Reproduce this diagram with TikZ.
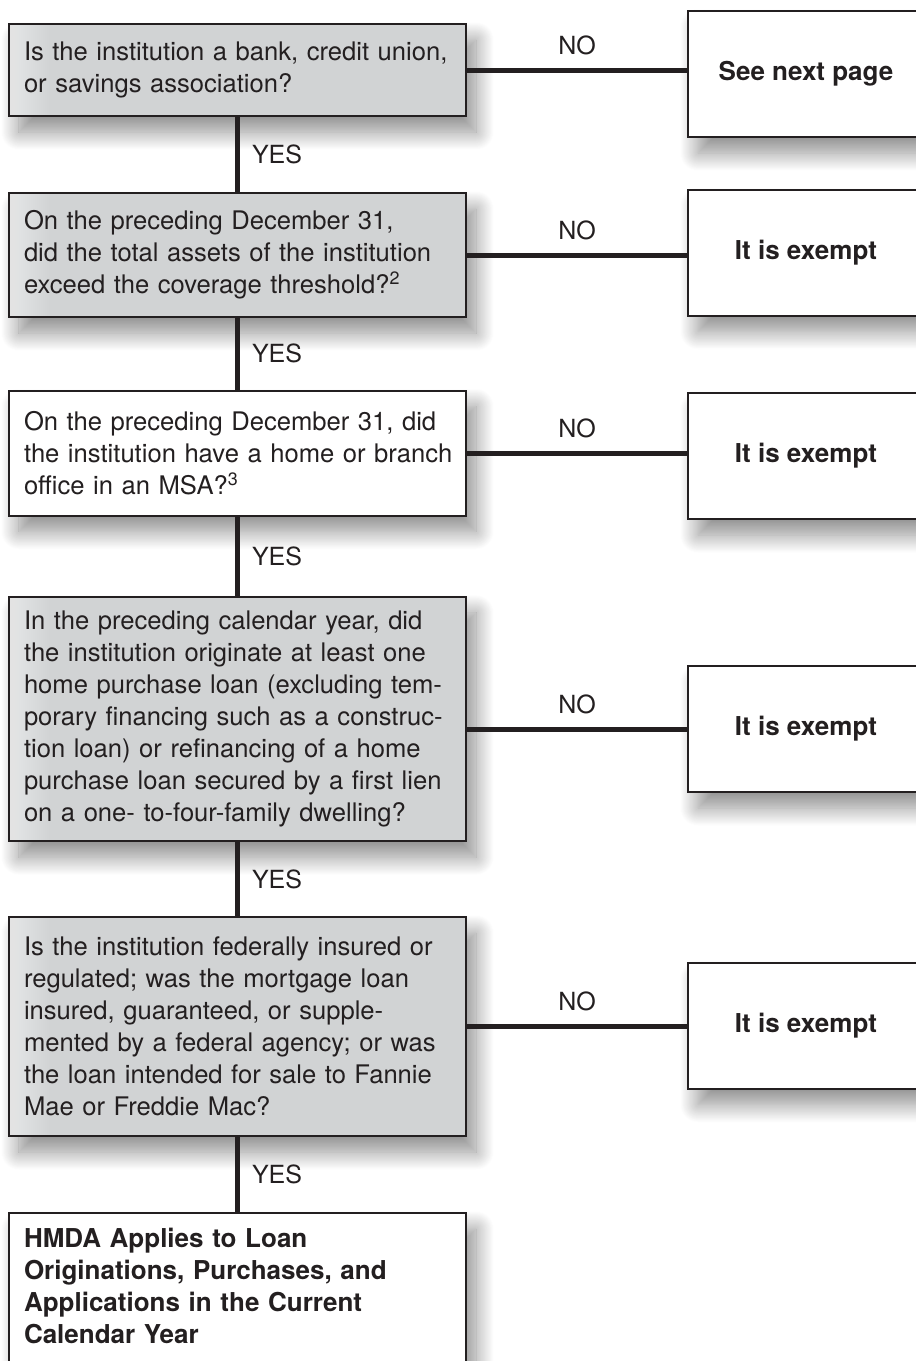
\documentclass[tikz,border=0pt]{standalone}
\usepackage{fontspec}
\setmainfont{TeX Gyre Heros}
\usepackage{tikz}
\usetikzlibrary{positioning,shadows.blur}

\definecolor{qgray}{HTML}{D1D3D4}
\definecolor{ink}{HTML}{231F20}

\begin{document}
\begin{tikzpicture}[x=1pt, y=-1pt,
  every node/.style={text=ink},
  box/.style={draw=ink, line width=2pt, rectangle, inner xsep=14pt, inner ysep=14pt,
    blur shadow={shadow xshift=10pt, shadow yshift=-16pt, shadow blur radius=18pt,
      shadow blur steps=24, shadow opacity=45}},
  qbox/.style={box, fill=qgray, minimum width=457pt, text width=427pt, align=left,
    font=\fontsize{25.6}{32}\selectfont,
    path picture={\foreach \s in {2,4,...,40}
      \fill[white, opacity=0.035] (path picture bounding box.south west)
        rectangle ([xshift=\s pt]path picture bounding box.north west);}},
  wbox/.style={box, fill=white, minimum width=457pt, text width=427pt, align=left,
    font=\fontsize{25.6}{32}\selectfont},
  exbox/.style={box, fill=white, minimum width=236pt, minimum height=126pt,
    font=\fontsize{26}{32}\selectfont\bfseries},
  link/.style={draw=ink, line width=5pt},
  nolabel/.style={midway, above=13pt, inner sep=0pt, font=\fontsize{25}{30}\selectfont},
  yeslabel/.style={midway, right=12pt, inner sep=0pt, font=\fontsize{25}{30}\selectfont}]
\useasboundingbox (0,0) rectangle (916,1361);
\clip (0,0) rectangle (916,1361);

%First question
\node[qbox, minimum height=92pt] (q1) at (237.5,70)
  {Is the institution a bank, credit union,\\or savings association?};
\node[exbox] (ex1) at (806,74) {See next page};

%Second question
\node[qbox, minimum height=124pt] (q2) at (237.5,255)
  {On the preceding December 31,\\\mbox{did the total assets of the institution}\\exceed the coverage threshold?\textsuperscript{2}};
\node[exbox] (ex2) at (806,252.5) {It is exempt};

%Third question
\node[wbox, minimum height=125pt] (q3) at (237.5,453)
  {On the preceding December 31, did\\\mbox{the institution have a home or branch}\\office in an MSA?\textsuperscript{3}};
\node[exbox] (ex3) at (806,456) {It is exempt};

%Fourth question
\node[qbox, minimum height=244pt] (q4) at (237.5,719)
  {In the preceding calendar year, did\\the institution originate at least one\\home purchase loan (excluding tem-\\porary financing such as a construc-\\tion loan) or refinancing of a home\\\mbox{purchase loan secured by a first lien}\\on a one- to-four-family dwelling?};
\node[exbox] (ex4) at (806,729) {It is exempt};

%Fifth question
\node[qbox, minimum height=219pt] (q5) at (237.5,1026.5)
  {Is the institution federally insured or\\regulated; was the mortgage loan\\insured, guaranteed, or supple-\\mented by a federal agency; or was\\the loan intended for sale to Fannie\\Mae or Freddie Mac?};
\node[exbox] (ex5) at (806,1025.5) {It is exempt};

%Result
\node[wbox, anchor=north, inner ysep=15pt,
  font=\fontsize{26}{32}\selectfont\bfseries] (hmda) at (237.5,1212)
  {HMDA Applies to Loan\\Originations, Purchases, and\\Applications in the Current\\Calendar Year\rule[-40pt]{0pt}{40pt}};

%NO links
\draw[link] (q1.east) -- node[nolabel]{NO} (q1.east -| ex1.west);
\draw[link] (q2.east) -- node[nolabel]{NO} (q2.east -| ex2.west);
\draw[link] (q3.east) -- node[nolabel]{NO} (q3.east -| ex3.west);
\draw[link] (q4.east |- ex4.west) -- node[nolabel]{NO} (ex4.west);
\draw[link] (q5.east) -- node[nolabel]{NO} (q5.east -| ex5.west);

%YES links
\draw[link] (q1.south) -- node[yeslabel]{YES} (q2.north);
\draw[link] (q2.south) -- node[yeslabel]{YES} (q3.north);
\draw[link] (q3.south) -- node[yeslabel]{YES} (q4.north);
\draw[link] (q4.south) -- node[yeslabel]{YES} (q5.north);
\draw[link] (q5.south) -- node[yeslabel]{YES} (hmda.north);

\end{tikzpicture}
\end{document}
